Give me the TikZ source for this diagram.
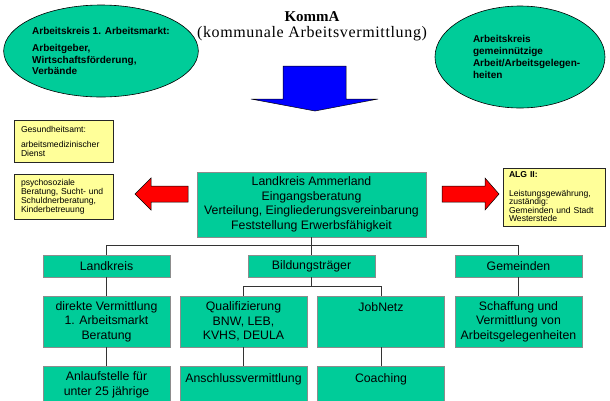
\documentclass[tikz,border=0pt]{standalone}
\usepackage{fontspec}
\setmainfont{Liberation Sans}
\newfontfamily\titlefont{Liberation Serif}
\newfontfamily\titlewide[LetterSpace=4]{Liberation Serif}
\usetikzlibrary{positioning,shapes.geometric}
\definecolor{kommgreen}{RGB}{0,204,153}
\definecolor{kommyellow}{RGB}{255,255,153}
\definecolor{kommblue}{RGB}{0,0,255}
\definecolor{kommred}{RGB}{255,0,0}
\tikzset{block/.style={draw=black!45,line width=0.9pt,fill=kommgreen,minimum width=127pt,align=center,inner sep=3pt,font=\fontsize{12.3}{14.5}\selectfont},
         toptext/.style={text height=12.5pt,text depth=#1},
         note/.style={draw=black!85,line width=0.6pt,fill=kommyellow,align=left,inner xsep=7pt,inner ysep=3pt,font=\fontsize{8.6}{9}\selectfont},
         kreis/.style={ellipse,draw=black,line width=0.6pt,fill=kommgreen,align=left,inner sep=0pt,font=\bfseries\fontsize{10}{11.5}\selectfont},
         line/.style={draw=black!80,line width=0.9pt}
}
\tikzstyle{bigarrow} = [draw=black,line width=0.5pt,line join=miter]

\begin{document}
\begin{tikzpicture}[x=1pt,y=-1pt]
\useasboundingbox[fill=white] (0,0) rectangle (610,400);

% Arbeitskreise und Titel
\node[kreis,minimum width=176pt,minimum height=92pt] (akmarkt) at (101,51) {Arbeitskreis 1. Arbeitsmarkt:\\[6pt]Arbeitgeber,\\Wirtschaftsförderung,\\Verbände};
\node[kreis,minimum width=170pt,minimum height=102pt,text width=94pt,font=\bfseries\fontsize{10}{12}\selectfont] (akgemein) at (520,57) {Arbeitskreis\\gemeinnützige\\\makebox[94pt][l]{Arbeit/Arbeitsgelegen-}\\heiten};
\node[font=\titlefont\bfseries\fontsize{15}{18}\selectfont] (komma) at (312,17) {KommA};
\node[font=\titlewide\fontsize{16}{18}\selectfont] (kommtext) at (312,34) {(kommunale Arbeitsvermittlung)};
\filldraw[bigarrow,fill=kommblue] (283,66) -- (346,66) -- (346,99) -- (378,99) -- (315,111) -- (251,99) -- (283,99) -- cycle;

% Zentrale
\node[block,minimum width=229pt,minimum height=65pt] (ammerland) at (311.5,204.5) {Landkreis Ammerland\\Eingangsberatung\\Verteilung, Eingliederungsvereinbarung\\Feststellung Erwerbsfähigkeit};

% Beratungsangebote
\node[note,text width=85pt,minimum height=42pt] (gesund) at (63.5,141) {Gesundheitsamt:\\[6pt]arbeitsmedizinischer\\Dienst};
\node[note,text width=85pt,minimum height=45pt] (psycho) at (63.5,196.5) {psychosoziale\\Beratung, Sucht- und\\Schuldnerberatung,\\Kinderbetreuung};
\node[note,text width=90pt,inner xsep=6pt,minimum height=58pt,font=\fontsize{8.6}{8.5}\selectfont] (alg) at (554,197) {\textbf{ALG II:}\\[10pt]Leistungsgewährung,\\zuständig:\\Gemeinden und Stadt\\Westerstede};
\filldraw[bigarrow,fill=kommred] (188,186) -- (151,186) -- (151,178) -- (135,194) -- (151,210) -- (151,202) -- (188,202) -- cycle;
\filldraw[bigarrow,fill=kommred] (442,186) -- (485,186) -- (485,178) -- (499,194) -- (485,210) -- (485,202) -- (442,202) -- cycle;

% Traeger
\node[block,minimum height=22pt] (landkreis) at (106.5,266) {Landkreis};
\node[block,minimum height=22pt] (bildung) at (311.5,266) {Bildungsträger};
\node[block,minimum height=22pt] (gemeinden) at (518.5,266) {Gemeinden};

% Angebote
\node[block,minimum height=51pt] (direkte) at (106.5,321.5) {direkte Vermittlung\\1. Arbeitsmarkt\\Beratung};
\node[block,minimum height=51pt] (qualif) at (243.5,321.5) {Qualifizierung\\BNW, LEB,\\KVHS, DEULA};
\node[block,toptext=32.5pt] (jobnetz) at (381,321.5) {JobNetz};
\node[block,minimum height=51pt] (schaffung) at (518.5,321.5) {Schaffung und\\Vermittlung von\\Arbeitsgelegenheiten};
\node[block,minimum height=36pt,below=19pt of direkte] (anlauf) {Anlaufstelle für\\unter 25 jährige};
\node[block,toptext=17.6pt,below=19pt of qualif] (anschluss) {Anschlussvermittlung};
\node[block,toptext=17.6pt,below=19pt of jobnetz] (coaching) {Coaching};

\draw[line] (ammerland) -- (bildung);
\draw[line] (landkreis.north) -- ++(0,-9) -| (gemeinden.north);
\draw[line] (qualif.north) -- ++(0,-9) coordinate (subbus) -| (jobnetz.north);
\draw[line] (bildung) -- (bildung |- subbus);
\draw[line] (landkreis) -- (direkte);
\draw[line] (gemeinden) -- (schaffung);
\draw[line] (direkte) -- (anlauf);
\draw[line] (qualif) -- (anschluss);
\draw[line] (jobnetz) -- (coaching);

\end{tikzpicture}
\end{document}
